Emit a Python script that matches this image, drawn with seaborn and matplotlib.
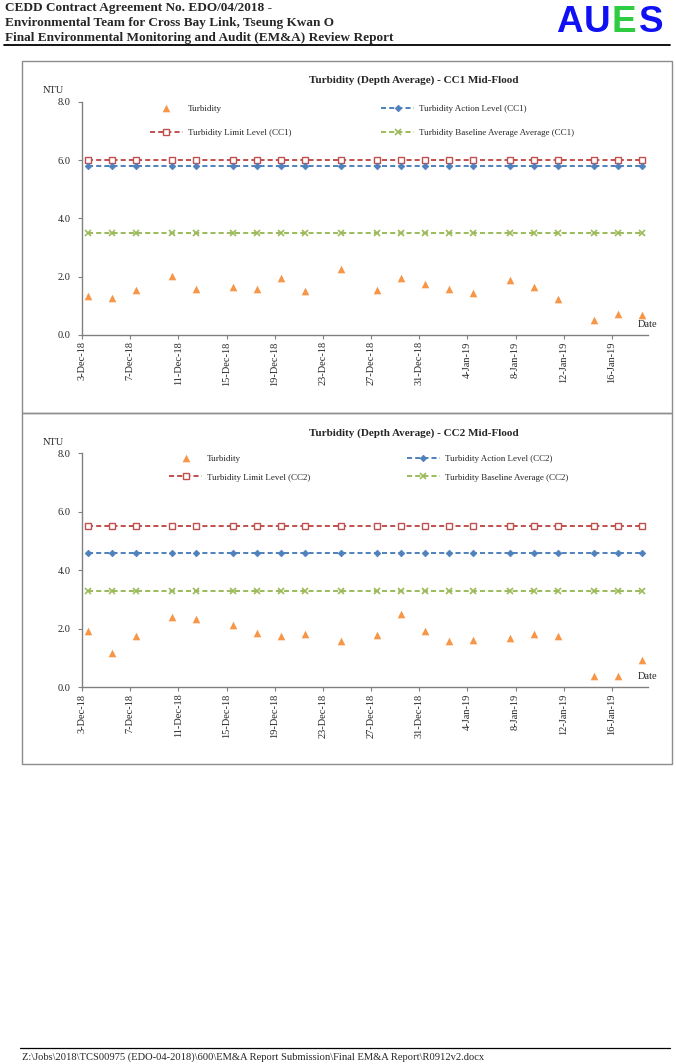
import matplotlib
matplotlib.use("Agg")
import matplotlib.pyplot as plt
from matplotlib.patches import Rectangle
from matplotlib.lines import Line2D
import seaborn as sns
import numpy as np
import pandas as pd

# sampling dates (shared by both stations)
dates = ["2018-12-03", "2018-12-05", "2018-12-07", "2018-12-10", "2018-12-12",
         "2018-12-15", "2018-12-17", "2018-12-19", "2018-12-21", "2018-12-24",
         "2018-12-27", "2018-12-29", "2018-12-31", "2019-01-02", "2019-01-04",
         "2019-01-07", "2019-01-09", "2019-01-11", "2019-01-14", "2019-01-16",
         "2019-01-18"]

turbidity_cc1 = [1.33, 1.28, 1.54, 2.02, 1.57, 1.64, 1.59, 1.94, 1.50, 2.27, 1.54,
                 1.94, 1.75, 1.59, 1.45, 1.87, 1.64, 1.24, 0.52, 0.71, 0.68]
turbidity_cc2 = [1.91, 1.18, 1.74, 2.40, 2.33, 2.12, 1.86, 1.76, 1.81, 1.57, 1.78,
                 2.52, 1.92, 1.57, 1.63, 1.68, 1.82, 1.74, 0.38, 0.38, 0.93]

# action / limit / baseline levels
levels_cc1 = {"action": 5.8, "limit": 6.0, "baseline": 3.5}
levels_cc2 = {"action": 4.6, "limit": 5.5, "baseline": 3.3}

titles = ["Turbidity (Depth Average) - CC1 Mid-Flood",
          "Turbidity (Depth Average) - CC2 Mid-Flood"]
labels_cc1 = ["Turbidity", "Turbidity Action Level (CC1)",
              "Turbidity Limit Level (CC1)", "Turbidity Baseline Average Average (CC1)"]
labels_cc2 = ["Turbidity", "Turbidity Action Level (CC2)",
              "Turbidity Limit Level (CC2)", "Turbidity Baseline Average (CC2)"]

y_ticks = [0.0, 2.0, 4.0, 6.0, 8.0]
tick_dates = pd.date_range("2018-12-03", "2019-01-16", freq="4D")

ORANGE = "#F79646"
BLUE = "#4F81BD"
RED = "#C0504D"
GREEN = "#9BBB59"

sns.set_style("white")
plt.rcParams["font.family"] = ["Liberation Serif", "DejaVu Serif"]

W, H = 676, 1064
fig = plt.figure(figsize=(W / 100, H / 100), dpi=100)


def px_x(x):
    return x / W


def px_y(y):
    return 1 - y / H


# header
head = ["CEDD Contract Agreement No. EDO/04/2018 -",
        "Environmental Team for Cross Bay Link, Tseung Kwan O",
        "Final Environmental Monitoring and Audit (EM&A) Review Report"]
for i, line in enumerate(head):
    fig.text(px_x(5), px_y(8.5 + 14.5 * i), line, fontsize=9.5, fontweight="bold",
             va="center", ha="left")
for ch, x0, c in zip("AUES", [556, 584, 612, 639], ["#1010F5", "#1010F5", "#2ECC40", "#1010F5"]):
    fig.text(px_x(x0), px_y(22), ch, fontsize=26.5, fontweight="bold", color=c,
             family="Liberation Sans", va="center", ha="left")
fig.add_artist(Line2D([px_x(4), px_x(670)], [px_y(45), px_y(45)], color="black", lw=1.3))

# footer
fig.add_artist(Line2D([px_x(20), px_x(670)], [px_y(1048), px_y(1048)], color="black", lw=0.9))
fig.text(px_x(22), px_y(1057),
         "Z:\\Jobs\\2018\\TCS00975 (EDO-04-2018)\\600\\EM&A Report Submission\\Final EM&A Report\\R0912v2.docx",
         fontsize=7.6, va="center", ha="left")

# panel frames
for top, bot in [(61, 413), (413, 764)]:
    fig.add_artist(Rectangle((px_x(22), px_y(bot)), px_x(672) - px_x(22), px_y(top) - px_y(bot),
                             fill=False, edgecolor="#8C8C8C", lw=1.0))

panels = [
    dict(values=turbidity_cc1, levels=levels_cc1, labels=labels_cc1, title=titles[0],
         ax_top=101.7, ax_bot=335.0, title_y=80, leg_left=0.120, leg_right=0.529,
         leg_y=0.919, spacing=1.75),
    dict(values=turbidity_cc2, levels=levels_cc2, labels=labels_cc2, title=titles[1],
         ax_top=453.3, ax_bot=687.3, title_y=433, leg_left=0.154, leg_right=0.574,
         leg_y=0.937, spacing=1.15),
]

x_pos = pd.to_datetime(dates) + pd.Timedelta(hours=12)

for p in panels:
    ax = fig.add_axes([px_x(82), px_y(p["ax_bot"]), px_x(648) - px_x(82),
                       (p["ax_bot"] - p["ax_top"]) / H])
    lv = p["levels"]
    n = len(dates)

    sns.scatterplot(x=x_pos, y=p["values"], ax=ax, marker="^", s=30, color=ORANGE,
                    linewidth=0, label=p["labels"][0], zorder=3)
    line_kw = dict(ax=ax, linewidth=1.4, dashes=(2.6, 1.6), zorder=2)
    sns.lineplot(x=x_pos, y=[lv["limit"]] * n, color=RED, marker="s", markersize=4.2,
                 markerfacecolor="white", markeredgecolor=RED, markeredgewidth=1.0,
                 label=p["labels"][2], **line_kw)
    sns.lineplot(x=x_pos, y=[lv["action"]] * n, color=BLUE, marker="D", markersize=3.3,
                 markerfacecolor=BLUE, markeredgecolor=BLUE, markeredgewidth=0.6,
                 label=p["labels"][1], **line_kw)
    sns.lineplot(x=x_pos, y=[lv["baseline"]] * n, color=GREEN, marker="x", markersize=4.2,
                 markeredgecolor=GREEN, markeredgewidth=1.2,
                 label=p["labels"][3], **line_kw)

    ax.set_xlim(pd.Timestamp("2018-12-03"), pd.Timestamp("2019-01-19"))
    ax.set_ylim(0, 8)
    ax.set_yticks(y_ticks)
    ax.set_yticklabels([f"{v:.1f}" for v in y_ticks], fontsize=7.5)
    ax.set_xticks(tick_dates)
    ax.set_xticklabels([f"{d.day}-{d:%b-%y}" for d in tick_dates], rotation=90, fontsize=7.5)
    ax.set_xlabel("")
    ax.set_ylabel("")
    for s in ["top", "right"]:
        ax.spines[s].set_visible(False)
    for s in ["left", "bottom"]:
        ax.spines[s].set_color("#808080")
        ax.spines[s].set_linewidth(1.0)
    ax.tick_params(axis="both", direction="out", length=3, width=0.8, color="#808080")
    ax.tick_params(axis="y", pad=5, left=True)
    ax.tick_params(axis="x", pad=1.5, bottom=True)
    ax.set_facecolor("white")

    ax.text(-0.051, 1.046, "NTU", transform=ax.transAxes, fontsize=7.5, ha="center", va="center")
    ax.text(1.0, 0.047, "Date", transform=ax.transAxes, fontsize=7.5, ha="center", va="center")
    fig.text(px_x(414), px_y(p["title_y"]), p["title"], fontsize=8, fontweight="bold",
             ha="center", va="center")

    handles, labels = ax.get_legend_handles_labels()
    hd = dict(zip(labels, handles))
    leg_kw = dict(loc="center left", frameon=False, fontsize=6.5, borderpad=0,
                  borderaxespad=0, handlelength=3.65, handletextpad=0.55,
                  labelspacing=p["spacing"], scatterpoints=1)
    left = ax.legend([hd[p["labels"][0]], hd[p["labels"][2]]], [p["labels"][0], p["labels"][2]],
                     bbox_to_anchor=(p["leg_left"], p["leg_y"]), **leg_kw)
    ax.add_artist(left)
    ax.legend([hd[p["labels"][1]], hd[p["labels"][3]]], [p["labels"][1], p["labels"][3]],
              bbox_to_anchor=(p["leg_right"], p["leg_y"]), **leg_kw)

fig.savefig("out.png", dpi=100, facecolor="white")
